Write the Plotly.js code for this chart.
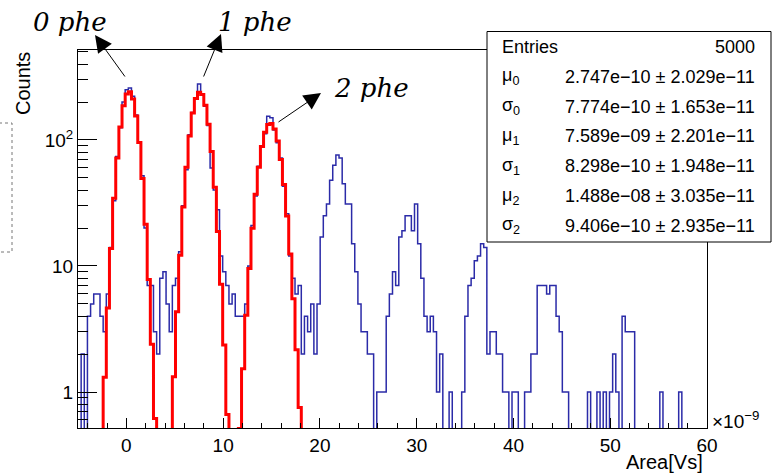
<!DOCTYPE html>
<html><head><meta charset="utf-8">
<script src="https://cdn.plot.ly/plotly-3.0.1.min.js"></script>
<style>html,body{margin:0;padding:0;background:#fff}</style>
</head><body>
<div id="chart" style="width:779px;height:476px"></div>
<script>
// Histogram: Area [x 1e-9 Vs], 200 bins from -5 to 60
const binLow = -5, binHigh = 60, nBins = 200;
const counts = [
  0,2,0,4,5,6,6,4,3,6,            // 0-9
  14,33,74,125,200,250,258,222,158,95, // 10-19
  52,20,7,7,3,2,8,9,5,3,          // 20-29
  7,8,13,30,58,110,165,210,278,232, // 30-39
  185,130,60,40,28,12,9,7,5,6,    // 40-49
  4,4,4,5,10,21,36,62,88,112,     // 50-59
  154,150,120,95,72,43,26,12,8,6, // 60-69
  7,2,4,3,5,2,5,17,25,31,         // 70-79
  48,63,76,72,45,31,31,15,9,5,    // 80-89
  3,3,2,2,0,1,1,1,4,6,            // 90-99
  9,7,17,19,25,25,19,31,15,8,     // 100-109
  4,3,4,3,1,2,0,0,1,0,            // 110-119
  0,0,1,4,7,8,11,12,15,14,        // 120-129
  2,3,3,2,2,1,1,0,1,1,            // 130-139
  0,0,1,1,2,2,7,7,7,6,            // 140-149
  7,7,4,3,1,1,0,0,0,0,            // 150-159
  0,0,1,0,0,1,0,1,0,1,            // 160-169
  2,1,0,4,3,3,3,0,0,0,            // 170-179
  0,0,0,0,0,1,0,0,0,0,            // 180-189
  0,1,0,0,0,0,0,0,0,0             // 190-199
];

// Gaussian fits (parameters from the stats box, x in 1e-9 units)
const fitMeans  = [0.2747, 7.589, 14.88];
const fitSigmas = [0.7774, 0.8298, 0.9406];
const fitAmps   = [243, 240, 136];
const fitBins   = [[4, 28], [27, 51], [48, 74]];

const peakLabels = ['0 phe', '1 phe', '2 phe'];

const statLabels = ['Entries', 'μ<sub>0</sub>', 'σ<sub>0</sub>', 'μ<sub>1</sub>', 'σ<sub>1</sub>', 'μ<sub>2</sub>', 'σ<sub>2</sub>'];
const statValues = ['5000',
  '2.747e\u221210 \u00b1 2.029e\u221211',
  '7.774e\u221210 \u00b1 1.653e\u221211',
  '7.589e\u221209 \u00b1 2.201e\u221211',
  '8.298e\u221210 \u00b1 1.948e\u221211',
  '1.488e\u221208 \u00b1 3.035e\u221211',
  '9.406e\u221210 \u00b1 2.935e\u221211'];

const yTickVals = [1, 10, 100];
const yTickText = ['1', '10', '10<sup>2</sup>'];
const yMinorVals = [0.6,0.7,0.8,0.9,2,3,4,5,6,7,8,9,20,30,40,50,60,70,80,90,200,300,400,500];

// ---- build traces ----
const bw = (binHigh - binLow) / nBins;
const edges = [];
for (let i = 0; i <= nBins; i++) edges.push(binLow + i * bw);
const FLOOR = 0.01; // empty bins drop below the axis like ROOT
const histY = counts.map(c => c > 0 ? c : FLOOR);
histY.push(histY[histY.length - 1]);

const traces = [{
  x: edges, y: histY, type: 'scatter', mode: 'lines',
  line: {shape: 'hv', color: '#2b2ba8', width: 1.5},
  hoverinfo: 'skip'
}];

for (let k = 0; k < fitMeans.length; k++) {
  const xs = [], ys = [];
  const [b0, b1] = fitBins[k];
  for (let i = b0; i <= b1; i++) {
    const c = binLow + (i + 0.5) * bw;
    const v = fitAmps[k] * Math.exp(-Math.pow(c - fitMeans[k], 2) / (2 * fitSigmas[k] * fitSigmas[k]));
    xs.push(edges[i]); ys.push(Math.max(v, FLOOR));
  }
  xs.push(edges[b1 + 1]); ys.push(ys[ys.length - 1]);
  traces.push({x: xs, y: ys, type: 'scatter', mode: 'lines',
    line: {shape: 'hv', color: '#ff0000', width: 3}, hoverinfo: 'skip'});
}

// ---- layout helpers (pixel -> paper) ----
const W = 779, H = 476, L = 78, R = 72, T = 50, B = 48;
const pw = W - L - R, ph = H - T - B;
const px = v => (v - L) / pw;
const py = v => (H - B - v) / ph;

const annotations = [];
const shapes = [];

// stats box
shapes.push({type: 'rect', xref: 'paper', yref: 'paper', layer: 'above',
  x0: px(487), x1: px(771), y0: py(242), y1: py(31.5),
  line: {color: 'black', width: 1}, fillcolor: 'white'});
const rowY0 = 47, rowStep = 29.8;
for (let i = 0; i < statLabels.length; i++) {
  const yc = py(rowY0 + i * rowStep);
  annotations.push({xref: 'paper', yref: 'paper', x: px(500), y: yc, xanchor: 'left', yanchor: 'middle',
    text: statLabels[i], showarrow: false, font: {size: 18, color: 'black'}});
  annotations.push({xref: 'paper', yref: 'paper', x: px(757), y: yc, xanchor: 'right', yanchor: 'middle',
    text: statValues[i], showarrow: false, font: {size: 18, color: 'black'}});
}

// dotted box at left edge
shapes.push({type: 'rect', xref: 'paper', yref: 'paper', layer: 'above',
  x0: px(-5), x1: px(12), y0: py(252), y1: py(123),
  line: {color: '#777', width: 1, dash: 'dot'}, fillcolor: 'rgba(0,0,0,0)'});

// peak labels and arrows
const labelPos = [[70, 22], [255, 22], [371, 88]];
const arrowTip = [[95, 35], [221, 34], [321, 93]];
const arrowTail = [[126, 78], [203, 78], [277, 123]];
for (let k = 0; k < peakLabels.length; k++) {
  annotations.push({xref: 'paper', yref: 'paper', x: px(labelPos[k][0]), y: py(labelPos[k][1]),
    xanchor: 'center', yanchor: 'middle', showarrow: false,
    text: '<i>' + peakLabels[k] + '</i>', font: {family: 'DejaVu Serif', size: 26, color: 'black'}});
  annotations.push({xref: 'paper', yref: 'paper', x: px(arrowTip[k][0]), y: py(arrowTip[k][1]),
    ax: arrowTail[k][0] - arrowTip[k][0], ay: arrowTail[k][1] - arrowTip[k][1],
    axref: 'pixel', ayref: 'pixel', text: '', showarrow: true,
    arrowhead: 2, arrowsize: 3.4, arrowwidth: 1, arrowcolor: 'black'});
}

// axis titles
annotations.push({xref: 'paper', yref: 'paper', x: px(23), y: py(84), xanchor: 'center', yanchor: 'middle',
  text: 'Counts', textangle: -90, showarrow: false, font: {size: 20, color: 'black'}});
annotations.push({xref: 'paper', yref: 'paper', x: px(705), y: py(462), xanchor: 'right', yanchor: 'middle',
  text: 'Area[Vs]', showarrow: false, font: {size: 20, color: 'black'}});
annotations.push({xref: 'paper', yref: 'paper', x: px(710), y: py(420), xanchor: 'left', yanchor: 'middle',
  text: '\u00d710<sup>\u22129</sup>', showarrow: false, font: {size: 19, color: 'black'}});

const layout = {
  width: W, height: H,
  margin: {l: L, r: R, t: T, b: B, pad: 0},
  paper_bgcolor: 'white', plot_bgcolor: 'white', showlegend: false,
  font: {family: 'Liberation Sans, Arial, sans-serif', color: 'black'},
  xaxis: {range: [binLow, binHigh], showgrid: false, zeroline: false,
    showline: true, mirror: true, linecolor: 'black', linewidth: 1,
    ticks: 'inside', ticklen: 10, tickwidth: 1, tickcolor: 'black',
    tickmode: 'linear', tick0: 0, dtick: 10, tickfont: {size: 19},
    minor: {tick0: 0, dtick: 2, ticks: 'inside', ticklen: 5, tickwidth: 1, tickcolor: 'black'},
    automargin: false},
  yaxis: {type: 'log', range: [-0.2857, 2.714], showgrid: false, zeroline: false,
    showline: true, mirror: true, linecolor: 'black', linewidth: 1,
    ticks: 'inside', ticklen: 19, tickwidth: 1, tickcolor: 'black',
    tickmode: 'array', tickvals: yTickVals, ticktext: yTickText, tickfont: {size: 19},
    minor: {tickmode: 'array', tickvals: yMinorVals, ticks: 'inside', ticklen: 10, tickwidth: 1, tickcolor: 'black'},
    automargin: false},
  shapes: shapes,
  annotations: annotations
};

Plotly.newPlot('chart', traces, layout, {staticPlot: true, displayModeBar: false});
</script>
</body></html>
